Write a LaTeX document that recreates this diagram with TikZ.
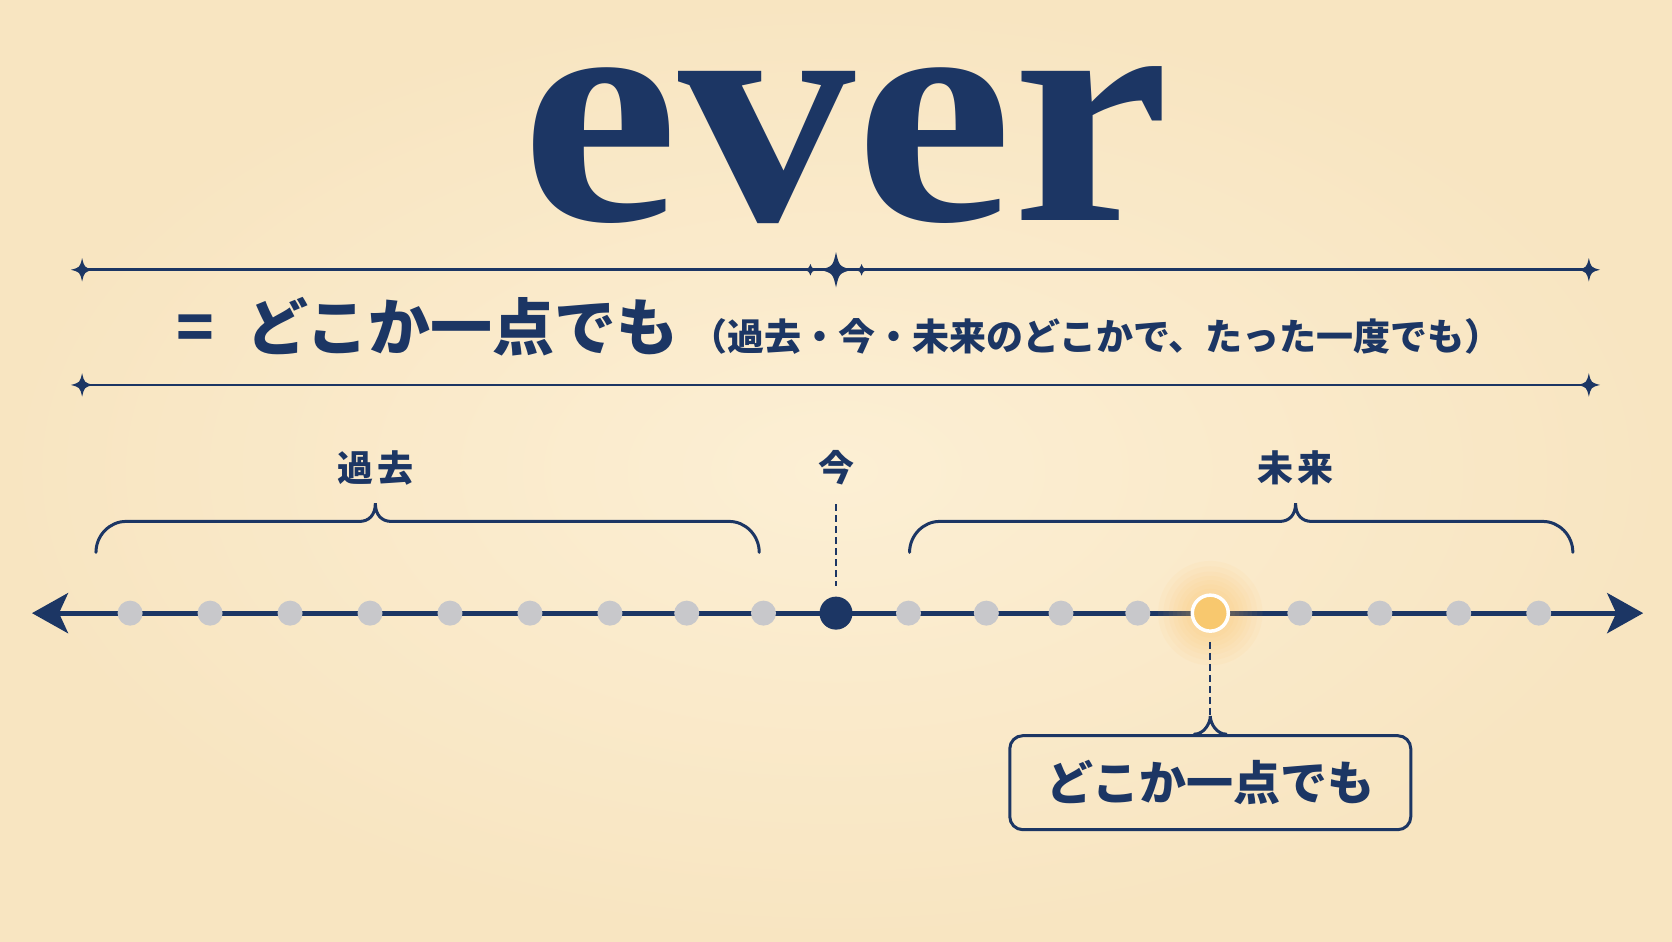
\documentclass[tikz,border=0pt]{standalone}
\usepackage{fontspec}
\newfontfamily\titlefont{Liberation Serif}
\newfontfamily\jpfont{Noto Sans CJK JP}
\usetikzlibrary{calc,arrows.meta}

\definecolor{navy}{RGB}{28,54,100}
\definecolor{bglight}{RGB}{252,239,212}
\definecolor{bgdark}{RGB}{248,229,193}
\definecolor{dotgray}{RGB}{200,200,203}
\definecolor{hitfill}{RGB}{248,200,110}
\definecolor{hitglow}{RGB}{250,188,80}

\tikzset{
  sparkle/.pic={\fill[navy] (0,-1) .. controls (0.2,-0.2) .. (1,0)
    .. controls (0.2,0.2) .. (0,1) .. controls (-0.2,0.2) .. (-1,0)
    .. controls (-0.2,-0.2) .. cycle;}
}

% brace over a span: left x, tip x, right x
\newcommand{\spanbrace}[3]{%
  \draw[bracket] (#1,518) .. controls (#1,502) and (#1+13,489) .. (#1+28,489)
    -- (#2-15,489) .. controls (#2-6,489) and (#2,483) .. (#2,472)
    .. controls (#2,483) and (#2+6,489) .. (#2+15,489)
    -- (#3-28,489) .. controls (#3-13,489) and (#3,502) .. (#3,518);}

\begin{document}
\begin{tikzpicture}[x=1.0663pt,y=-1.0663pt,
  >={Stealth[length=36pt,width=40pt,inset=9pt]},
  rule/.style={navy,line width=2.8pt},
  bracket/.style={navy,line width=3pt,line cap=round},
  guide/.style={navy,line width=2pt,dash pattern=on 7pt off 4pt},
  timeline/.style={navy,line width=5pt,<->},
  word/.style={text=navy,inner sep=0pt},
  headfont/.style={font=\jpfont\bfseries\fontsize{62}{62}\selectfont},
  glossfont/.style={font=\jpfont\bfseries\fontsize{37}{37}\selectfont},
  labelfont/.style={font=\jpfont\bfseries\fontsize{36}{36}\selectfont},
  pastdot/.style={circle,fill=dotgray,minimum size=25pt,inner sep=0pt},
  nowdot/.style={circle,fill=navy,minimum size=33pt,inner sep=0pt},
  hitdot/.style={circle,fill=hitfill,draw=white,line width=3.5pt,minimum size=36pt,inner sep=0pt},
  callout/.style={draw=navy,line width=3pt,rounded corners=13pt,minimum width=401pt,
    minimum height=94pt,inner sep=0pt,text=navy,font=\jpfont\bfseries\fontsize{47}{47}\selectfont}]

% ---------- background ----------
\shade[inner color=bglight,outer color=bgdark] (0,0) rectangle (1568,882.5);
\useasboundingbox (0,0) rectangle (1568,882.5);

% ---------- title ----------
\node[word,anchor=base] (title) at (793,207)
  {\titlefont\bfseries\fontsize{325}{325}\selectfont\scalebox{1.09}[1]{ever}};

% ---------- rules with sparkles ----------
\coordinate (topL) at (77,253);
\coordinate (topR) at (1490,253);
\coordinate (topC) at (784,253);
\coordinate (botL) at (77,361);
\coordinate (botR) at (1490,361);
\draw[rule] (topL) -- (topR);
\draw[rule] (botL) -- (botR);
\foreach \corner in {topL,topR,botL,botR}
  \pic[xscale=10.5,yscale=11] at (\corner) {sparkle};
\pic[xscale=15,yscale=16.5] at (topC) {sparkle};
\pic[xscale=8,yscale=5.5] at ($(topC)+(-24,0)$) {sparkle};
\pic[xscale=8,yscale=5.5] at ($(topC)+(24,0)$) {sparkle};

% ---------- meaning ----------
\node[word,headfont,anchor=base west] (eq) at (165,329) {=};
\node[word,headfont,anchor=base west] (meaning) at (231,329) {どこか一点でも};
\node[word,glossfont,anchor=base west] (gloss) at (647,329)
  {（過去・今・未来のどこかで、たった一度でも）};

% ---------- time labels and braces ----------
\node[word,labelfont] (lpast) at (352,439) {過\hspace{4pt}去};
\node[word,labelfont] (lnow) at (784,439) {今};
\node[word,labelfont] (lfuture) at (1215,439) {未\hspace{4pt}来};
\spanbrace{90}{352}{712}
\spanbrace{853}{1215}{1475}

% ---------- timeline ----------
\coordinate (tlL) at (30,575);
\coordinate (tlR) at (1541,575);
\coordinate (hitc) at (1135,575);
\draw[timeline] (tlL) -- (tlR);
\foreach \r in {19,23,27,31,35,39,44,49}
  \fill[hitglow,opacity=0.05] (hitc) circle (\r);
\foreach \x [count=\i] in {122,197,272,347,422,497,572,644,716}
  \node[pastdot] (pd\i) at (\x,575) {};
\foreach \x [count=\i] in {852,925,995,1067,1219,1294,1368,1443}
  \node[pastdot] (fd\i) at (\x,575) {};
\node[nowdot] (nowmark) at (784,575) {};
\node[hitdot] (hit) at (hitc) {};

% now marker
\coordinate (nowtop) at (784,473);
\draw[guide,shorten >=10pt] (nowtop) -- (nowmark);

% ---------- callout ----------
\node[callout] (spot) at (1135,734) {どこか一点でも};
\coordinate (cusp) at ($(spot.north)+(0,-17)$);
\draw[bracket] ($(spot.north)+(-15,0)$) .. controls +(9,0) and +(0,7) .. (cusp)
  .. controls +(0,7) and +(-9,0) .. ($(spot.north)+(15,0)$);
\draw[guide,shorten <=9pt] (hit) -- (cusp);

\end{tikzpicture}
\end{document}
